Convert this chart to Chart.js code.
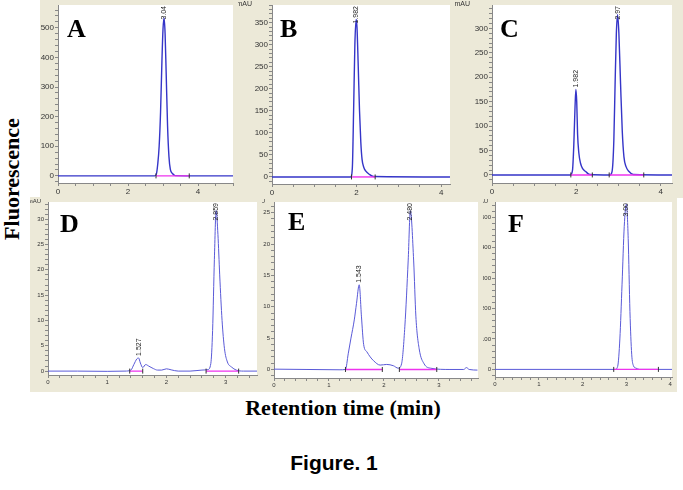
<!DOCTYPE html>
<html>
<head>
<meta charset="utf-8">
<script src="https://cdn.jsdelivr.net/npm/chart.js"></script>
<style>
  body { margin: 0; background: #fff; }
  #page { position: relative; width: 683px; height: 490px; overflow: hidden; background: #fff; }
  canvas { position: absolute; }
  .txt { position: absolute; color: #000; white-space: nowrap; }
</style>
</head>
<body>
<div id="page">
  <canvas id="chartA" width="198" height="198" style="left:40px;top:0px"></canvas>
  <canvas id="chartB" width="217" height="198" style="left:238px;top:0px"></canvas>
  <canvas id="chartC" width="228" height="198" style="left:455px;top:0px"></canvas>
  <canvas id="chartD" width="232" height="195" style="left:30px;top:197px"></canvas>
  <canvas id="chartE" width="221" height="195" style="left:262px;top:197px"></canvas>
  <canvas id="chartF" width="194" height="195" style="left:483px;top:197px"></canvas>

  <div class="txt" style="left:12px;top:179px;font:bold 22px 'Liberation Serif';line-height:22px;transform:translate(-50%,-50%) rotate(-90deg)">Fluorescence</div>
  <div class="txt" style="left:193px;top:397px;width:300px;text-align:center;font:bold 22px 'Liberation Serif';line-height:22px">Retention time (min)</div>
  <div class="txt" style="left:184px;top:452px;width:300px;text-align:center;font:bold 21px 'Liberation Sans';line-height:21px">Figure. 1</div>
</div>

<script>
// retention time (min) and signal (mAU)
const timeA = [0, 2.76, 2.81, 2.85, 2.89, 2.93, 2.97, 3.00, 3.03, 3.06, 3.09, 3.13, 3.17, 3.21, 3.27, 3.35, 5.0];
const signalA = [0, 0, 6, 40, 100, 215, 390, 495, 533, 480, 350, 170, 65, 22, 8, 1, 0];
const peaksA = [[3.03, "3.04"]];
const baseA = [[2.80, 3.75]];

const timeB = [0, 1.86, 1.90, 1.93, 1.96, 1.99, 2.01, 2.04, 2.07, 2.10, 2.13, 2.17, 2.22, 2.30, 2.40, 4.21];
const signalB = [0, 0, 20, 150, 300, 357, 340, 250, 150, 80, 40, 22, 13, 6, 1, 0];
const peaksB = [[1.99, "1.982"]];
const baseB = [[1.88, 2.44]];

const timeC = [0, 1.86, 1.91, 1.94, 1.97, 1.99, 2.01, 2.03, 2.06, 2.10, 2.15, 2.22, 2.32, 2.80, 2.85, 2.89, 2.92, 2.95, 2.98, 3.01, 3.05, 3.09, 3.13, 3.18, 3.25, 3.35, 4.27];
const signalC = [0, 0, 10, 60, 140, 175, 150, 84, 45, 24, 13, 7, 1, 0, 8, 70, 186, 290, 328, 290, 186, 90, 37, 17, 7, 1, 0];
const peaksC = [[1.99, "1.982"], [2.98, "2.97"]];
const baseC = [[1.87, 2.38], [2.78, 3.60]];

const timeD = [0, 0.5, 1.0, 1.30, 1.40, 1.45, 1.50, 1.53, 1.56, 1.60, 1.65, 1.70, 1.78, 1.85, 1.92, 2.00, 2.08, 2.20, 2.40, 2.60, 2.70, 2.75, 2.78, 2.81, 2.84, 2.87, 2.90, 2.94, 2.98, 3.03, 3.10, 3.18, 3.30, 3.56];
const signalD = [0, 0, -0.05, 0, 0.2, 1.3, 2.4, 2.6, 1.6, 0.7, 1.3, 1.0, 0.5, 0.2, 0.2, 0.45, 0.25, 0, 0, 0.2, 0.3, 1.5, 8, 22, 31.7, 27, 19, 10, 4.5, 1.8, 0.8, 0.2, 0, 0];
const peaksD = [[1.53, "1.527"], [2.84, "2.859"]];
const baseD = [[1.38, 1.60], [2.67, 3.22]];

const timeE = [0, 0.6, 1.2, 1.30, 1.35, 1.40, 1.46, 1.50, 1.55, 1.59, 1.63, 1.69, 1.75, 1.81, 1.93, 2.05, 2.17, 2.26, 2.32, 2.38, 2.44, 2.48, 2.54, 2.58, 2.64, 2.73, 2.85, 3.20, 3.45, 3.50, 3.55, 3.70];
const signalE = [0.05, 0, -0.05, 0, 2.5, 5.0, 7.9, 10.5, 13.5, 8.5, 4.0, 2.8, 2.0, 1.4, 0.7, 0.8, 0.6, 0.2, 0.9, 6.9, 17.3, 25.3, 17.3, 8.5, 3.3, 0.9, 0.2, 0, 0, 0.3, 0, -0.1];
const peaksE = [[1.55, "1.543"], [2.48, "2.480"]];
const baseE = [[1.30, 1.97], [2.28, 2.96]];

const timeF = [0, 2.74, 2.80, 2.85, 2.90, 2.95, 3.00, 3.04, 3.08, 3.12, 3.16, 3.22, 3.30, 4.04];
const signalF = [0, 0, 10, 100, 280, 470, 543, 430, 190, 50, 12, 4, 0, 0];
const peaksF = [[3.00, "3.00"]];
const baseF = [[2.71, 3.73]];

const panelDecor = {
  id: 'panelDecor',
  beforeDraw(chart) {
    const {ctx, chartArea: a, width, height} = chart;
    ctx.save();
    ctx.fillStyle = '#ece9d8';
    ctx.fillRect(0, 0, width, height);
    ctx.fillStyle = '#ffffff';
    ctx.fillRect(a.left, a.top, a.right - a.left, a.bottom - a.top);
    ctx.restore();
  },
  afterDatasetsDraw(chart, args, opts) {
    const {ctx, chartArea: a} = chart;
    const xs = chart.scales.x, ys = chart.scales.y;
    ctx.save();
    // unit label
    ctx.fillStyle = '#333';
    ctx.font = opts.us + 'px "Liberation Sans"';
    ctx.textAlign = 'right';
    ctx.textBaseline = 'top';
    if (opts.ux !== null) ctx.fillText('mAU', opts.ux, 1);
    // peak retention time labels
    ctx.font = '7px "Liberation Sans"';
    ctx.fillStyle = '#222';
    opts.peaks.forEach(([t, text]) => {
      let h = 0;
      opts.time.forEach((tt, i) => { if (Math.abs(tt - t) < 0.06) h = Math.max(h, opts.signal[i]); });
      const px = xs.getPixelForValue(t);
      const w = ctx.measureText(text).width;
      const py = Math.max(ys.getPixelForValue(h) - 2, a.top + w + 1);
      ctx.save();
      ctx.translate(px, py);
      ctx.rotate(-Math.PI / 2);
      ctx.textAlign = 'left';
      ctx.textBaseline = 'middle';
      ctx.fillText(text, 0, 0);
      ctx.restore();
    });
    // panel letter
    ctx.fillStyle = '#000';
    ctx.font = 'bold 26px "Liberation Serif"';
    ctx.textAlign = 'left';
    ctx.textBaseline = 'alphabetic';
    ctx.fillText(opts.letter, opts.lx, opts.ly);
    ctx.restore();
  }
};

function makeScale(min, max, step, major, fontSize, thickness) {
  return {
    type: 'linear',
    min: min,
    max: max,
    ticks: {
      stepSize: step,
      includeBounds: false,
      autoSkip: false,
      maxRotation: 0,
      maxTicksLimit: 1000,
      padding: 1,
      color: '#333',
      font: {family: 'Liberation Sans', size: fontSize},
      callback: v => Math.abs(v / major - Math.round(v / major)) < 1e-6 ? String(Math.round(v)) : ''
    },
    grid: {drawOnChartArea: false, drawTicks: true, tickLength: 3, color: '#888'},
    border: {display: true, color: '#888', width: 1},
    afterFit(s) {
      if (s.isHorizontal()) s.height = thickness; else s.width = thickness;
      s.paddingLeft = 0; s.paddingRight = 0; s.paddingTop = 0; s.paddingBottom = 0;
    }
  };
}

function drawPanel(id, time, signal, peaks, base, cfg) {
  const trace = time.map((t, i) => ({x: t, y: signal[i]}));
  const segs = [];
  const marks = [];
  base.forEach(([s, e]) => {
    segs.push({x: s, y: 0}, {x: e, y: 0}, {x: e, y: null});
    marks.push({x: s, y: 0}, {x: e, y: 0});
  });
  new Chart(document.getElementById(id).getContext('2d'), {
    type: 'line',
    data: {
      datasets: [
        {data: trace, borderColor: cfg.line, borderWidth: cfg.lw, pointRadius: 0,
         cubicInterpolationMode: 'monotone', order: 3},
        {data: segs, borderColor: '#ee33ee', borderWidth: 1.4, pointRadius: 0, spanGaps: false, order: 2},
        {data: marks, showLine: false, pointStyle: 'line', rotation: 90, pointRadius: 2.5,
         pointBorderColor: '#333', pointBorderWidth: 1, order: 1}
      ]
    },
    options: {
      responsive: false,
      animation: false,
      events: [],
      layout: {padding: {left: 0, right: cfg.pr, top: cfg.pt, bottom: 0}},
      plugins: {
        legend: {display: false},
        tooltip: {enabled: false},
        panelDecor: {letter: cfg.letter, lx: cfg.lx, ly: cfg.ly, ux: cfg.ux, us: cfg.us,
                     peaks: peaks, time: time, signal: signal}
      },
      scales: {
        x: makeScale(0, cfg.xmax, cfg.xstep, cfg.xmajor, cfg.fs, cfg.xh),
        y: makeScale(cfg.ymin, cfg.ymax, cfg.ystep, cfg.ymajor, cfg.fs, cfg.yw)
      }
    },
    plugins: [panelDecor]
  });
}

const topLine = '#3535c8';
const lowLine = '#5a5ad8';

drawPanel('chartA', timeA, signalA, peaksA, baseA,
  {letter: 'A', lx: 27, ly: 37, ux: null, us: 7, fs: 8, line: topLine, lw: 1.4, pr: 3, pt: 0,
   xmax: 5.0, xstep: 0.5, xmajor: 2, xh: 15, ymin: -24, ymax: 577, ystep: 20, ymajor: 100, yw: 18});
drawPanel('chartB', timeB, signalB, peaksB, baseB,
  {letter: 'B', lx: 42, ly: 37, ux: 14, us: 7, fs: 8, line: topLine, lw: 1.4, pr: 0, pt: 0,
   xmax: 4.21, xstep: 0.5, xmajor: 2, xh: 14, ymin: -16, ymax: 390, ystep: 10, ymajor: 50, yw: 34});
drawPanel('chartC', timeC, signalC, peaksC, baseC,
  {letter: 'C', lx: 45, ly: 37, ux: 15, us: 7, fs: 8, line: topLine, lw: 1.4, pr: 11, pt: 1,
   xmax: 4.27, xstep: 0.5, xmajor: 2, xh: 15, ymin: -16.5, ymax: 348, ystep: 10, ymajor: 50, yw: 37});
drawPanel('chartD', timeD, signalD, peaksD, baseD,
  {letter: 'D', lx: 30, ly: 35, ux: 11, us: 6, fs: 6, line: lowLine, lw: 1, pr: 0, pt: 1,
   xmax: 3.53, xstep: 0.2, xmajor: 1, xh: 17, ymin: -0.77, ymax: 33.4, ystep: 1, ymajor: 5, yw: 18});
drawPanel('chartE', timeE, signalE, peaksE, baseE,
  {letter: 'E', lx: 26, ly: 33, ux: 3, us: 6, fs: 6, line: lowLine, lw: 1, pr: 0, pt: 1,
   xmax: 3.71, xstep: 0.2, xmajor: 1, xh: 14, ymin: -1.36, ymax: 26.7, ystep: 1, ymajor: 5, yw: 12});
drawPanel('chartF', timeF, signalF, peaksF, baseF,
  {letter: 'F', lx: 25, ly: 35, ux: 5, us: 6, fs: 6, line: lowLine, lw: 1, pr: 2, pt: 1,
   xmax: 4.04, xstep: 0.2, xmajor: 1, xh: 15, ymin: -25, ymax: 550, ystep: 20, ymajor: 100, yw: 12});
</script>
</body>
</html>
